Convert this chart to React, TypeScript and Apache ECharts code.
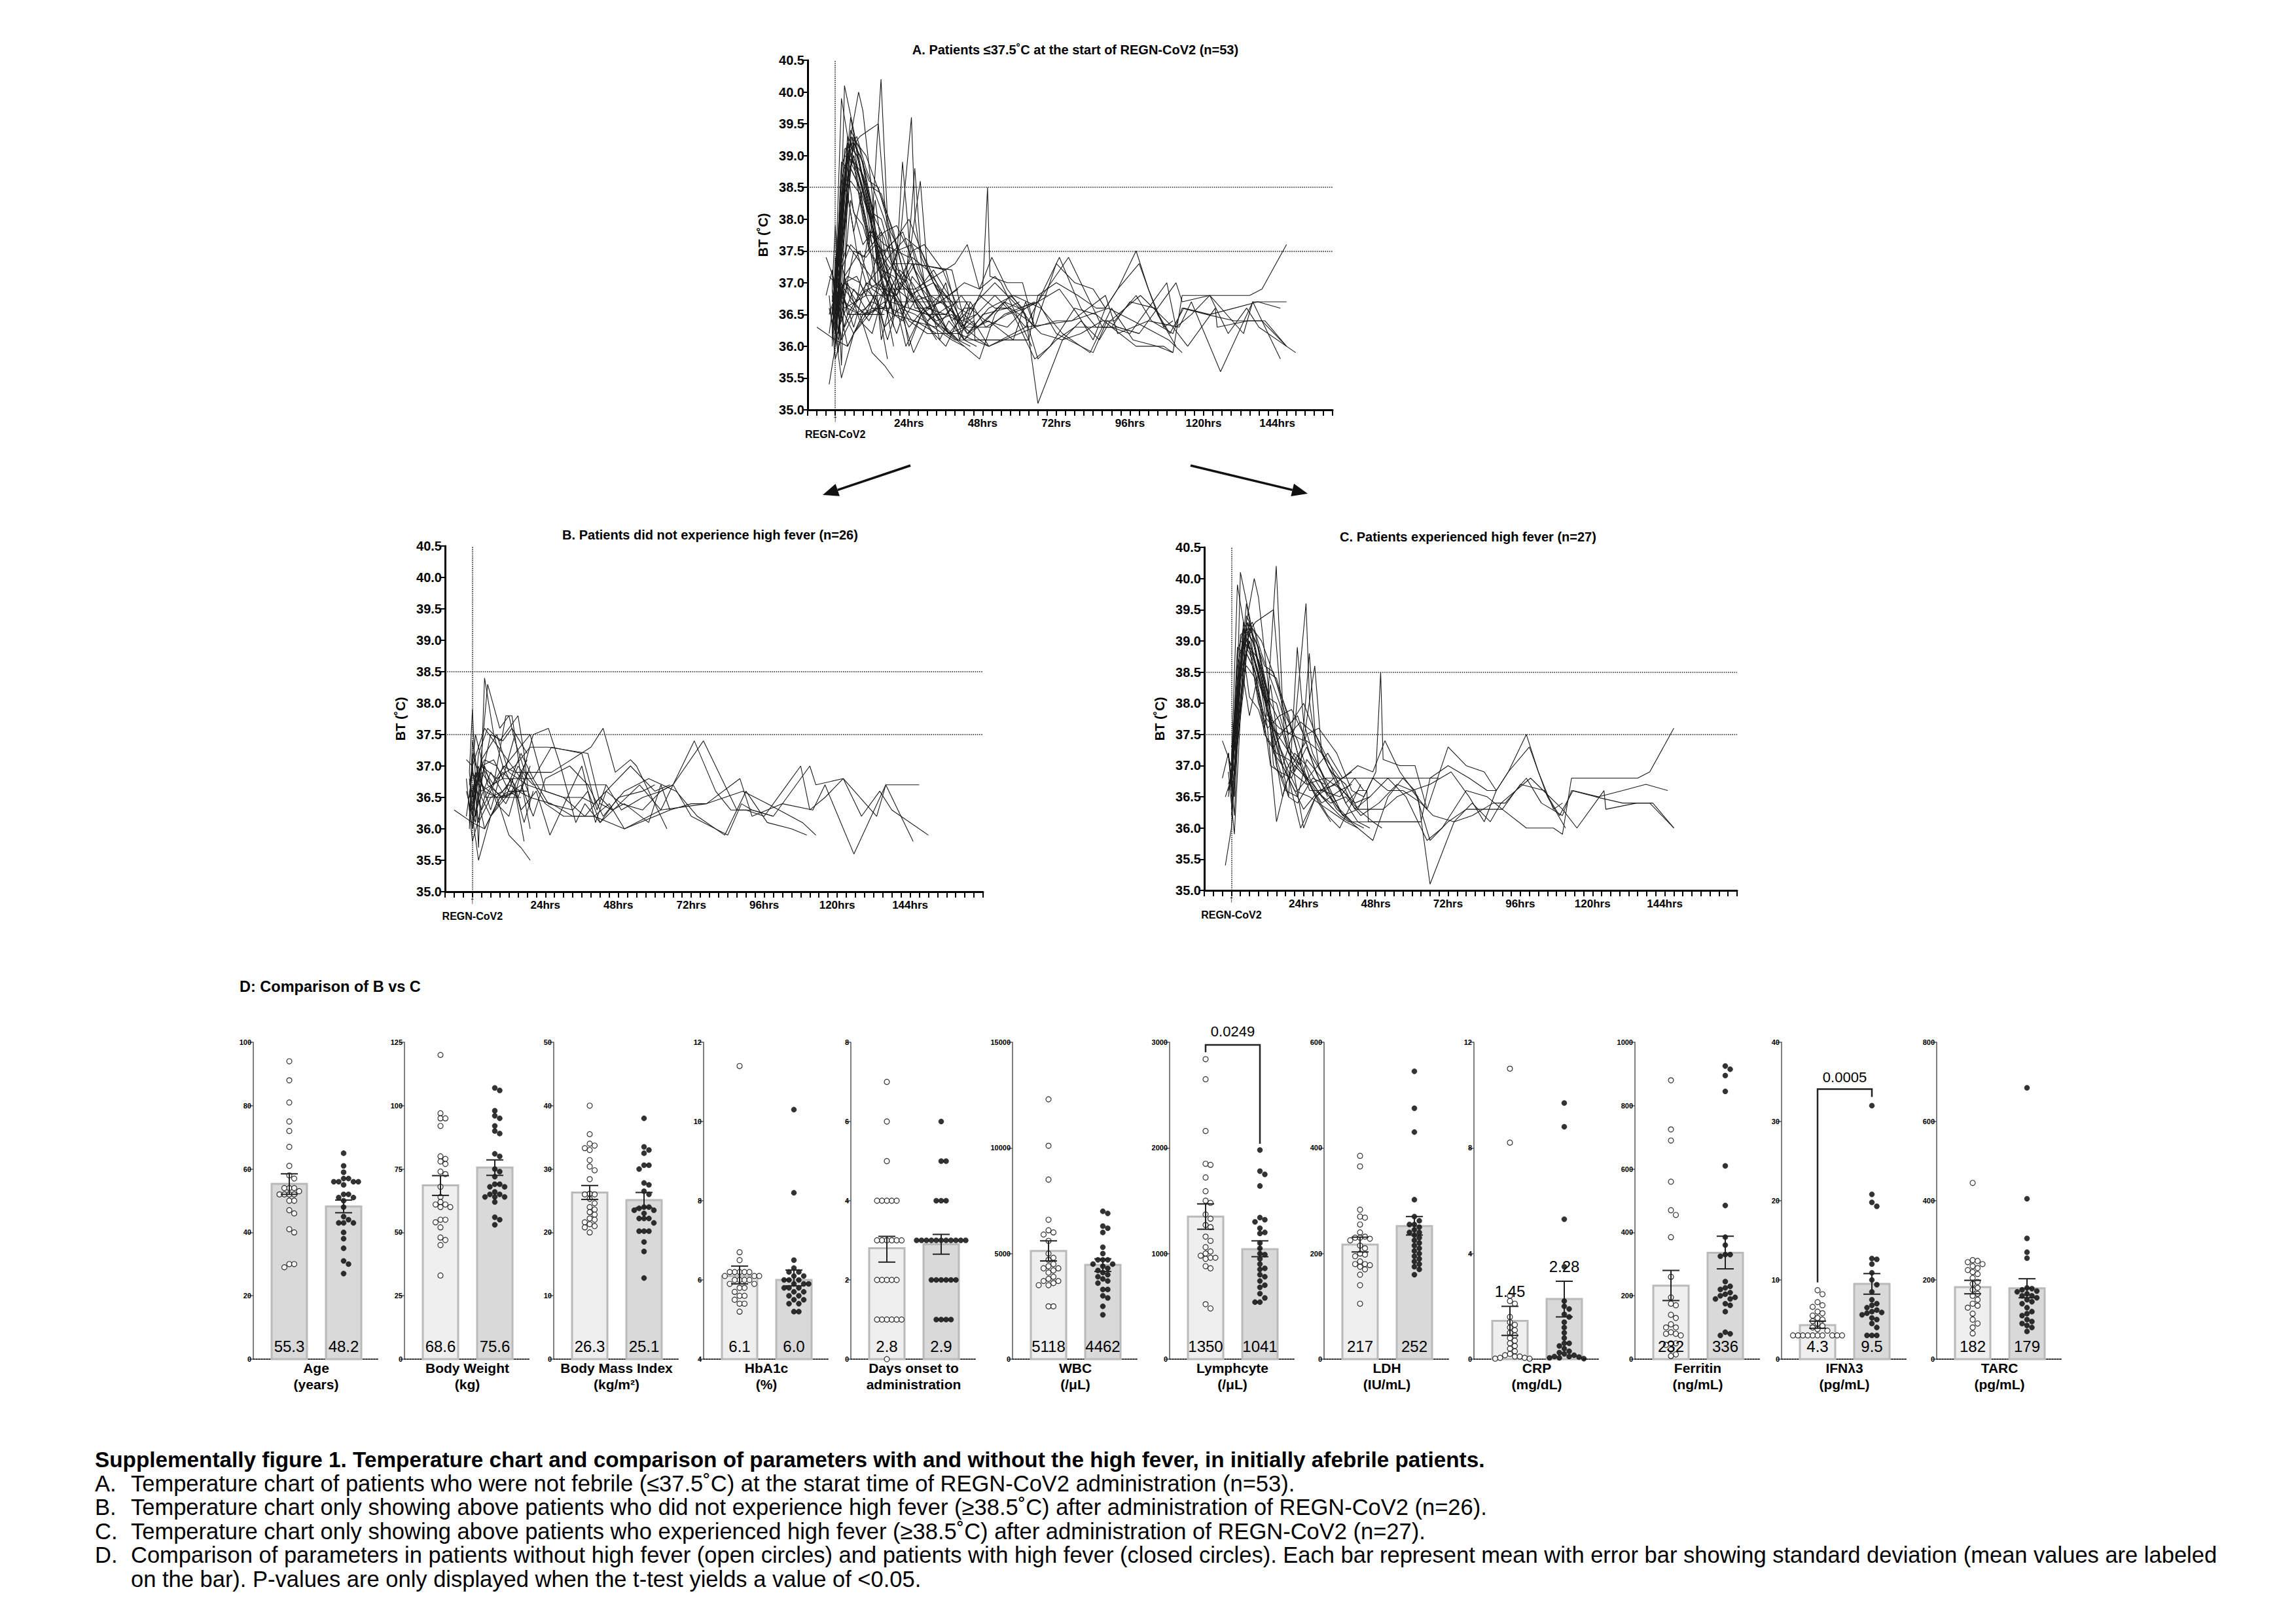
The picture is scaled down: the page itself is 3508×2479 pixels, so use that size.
import React, { useEffect, useRef } from 'react';
import * as echarts from 'echarts';

const FONT = "'Liberation Sans', Arial, Helvetica, sans-serif";
const W = 3508;
const H = 2479;

// ---------- Temperature charts (hours after REGN-CoV2, body temperature) ----------
const patientsB: number[][][] = [
  [[-6,36.3],[0,36.1],[4,36.0],[9,36.5],[14,36.6],[18,36.6]],
  [[-1,36.9],[0,37.9],[2,35.7],[4,38.4],[7,37.5],[10,37.0],[14,36.9],[20,36.9],[26,36.9],[39,37.3],[43,37.6],[47,36.9],[52,37.1],[54,37.0],[64,36.0]],
  [[-1,36.4],[1,36.1],[5,38.3],[9,37.6],[12,37.8],[14,37.4],[18,36.8],[20,36.7],[30,36.7],[44,36.7],[49,36.3],[56,36.5],[62,36.6],[66,36.7],[76,37.4],[87,36.3],[92,36.3],[99,36.2],[111,37.0],[113,36.7],[122,36.8],[133,36.2],[136,36.7],[140,36.7],[147,36.7]],
  [[-2,36.6],[0,36.2],[2,35.5],[6,36.2],[10,36.5],[15,36.6],[19,36.5],[26,36.4],[33,36.2],[40,36.2],[45,36.4],[50,36.0],[65,36.3],[72,36.4],[77,36.4],[88,36.8],[92,36.2],[102,36.4],[112,36.3],[116,36.7],[125.5,35.6],[136,36.7],[140,36.3],[145,35.8]],
  [[-1,36.0],[0,37.2],[3,36.7],[8,36.5],[12,35.9],[16,35.7],[19,35.5]],
  [[-2,37.1],[0,37.0],[4,37.6],[10,37.2],[16,36.8],[20,37.5],[25,37.6],[29,37.0],[34,36.1],[37,36.4],[42,36.1],[48,36.5],[56,36.6],[60,36.7]],
  [[-1,36.5],[1,37.5],[5,36.7],[10,36.5],[16,37.2],[20,36.8],[26,37.3],[36,37.2],[41,36.3],[44,36.7]],
  [[-2,36.2],[0,36.9],[3,36.3],[7,36.7],[11,37.8],[13,37.8],[17,36.5],[19,36.0]],
  [[0,36.0],[2,37.2],[5,37.6],[9,37.4],[15,37.8],[17,37.2],[19,36.3]],
  [[-1,36.6],[0,36.2],[3,37.1],[8,37.5],[12,36.9],[18,36.7],[24,36.6],[30,36.5],[36,36.5],[40,36.4],[44,36.6],[52,37.0],[60,36.6],[65,36.7]],
  [[-2,36.8],[0,35.8],[4,36.5],[9,36.9],[14,37.2],[19,37.5],[24,36.6],[30,36.5],[37,36.2],[42,36.5],[46,36.3]],
  [[-1,36.3],[0,36.4],[3,37.0],[7,36.7],[10,36.9],[14,36.7],[16,36.3],[21,36.6],[25.5,35.9],[36,37.0],[40.5,36.1],[44,36.6],[49,36.4],[56,36.3],[62,36.6],[66,36.7],[72,36.2],[84,35.9],[88.5,36.4],[92,36.3],[99,36.2]],
  [[0,36.5],[1,36.9],[4,36.6],[8,36.5],[12,36.7],[16,36.6],[19,37.0]],
  [[-1,36.7],[0,37.0],[2,36.1],[6,36.5],[10,36.6],[13,36.8],[17,36.1],[20,36.6]],
  [[0,36.4],[1,36.8],[4,37.1],[8,37.0],[12,36.6],[15,36.5],[18,36.9],[24,36.4],[30,36.2],[40,36.2],[50,36.0],[62,36.3],[77,36.4],[89,36.6],[97,36.4],[108.6,36.1],[113,35.9]],
  [[-1,36.1],[0,37.4],[3,36.5],[6,36.2],[11,36.5],[15,37.0],[18,36.8]],
  [[0,36.6],[2,37.0],[4,36.5],[8,36.5],[12,36.5],[16,36.5]],
  [[-1,36.2],[0,36.6],[3,36.9],[6,36.7],[11,36.4],[15,36.8],[18,37.1]],
  [[-1,36.9],[0,36.5],[3,37.0],[7,37.1],[10,36.8],[14,37.5],[19,37.5]],
  [[0,36.2],[1,36.7],[4,36.0],[9,36.5],[12,36.6],[17,36.6]],
  [[-1,36.8],[0,36.3],[2,36.9],[6,36.3],[10,37.0],[14,36.6],[17,35.8]],
  [[0,36.7],[1,36.2],[4,37.0],[8,36.4],[12,36.2],[16,36.9],[19,36.5]],
  [[0,36.8],[3,37.0],[8,36.8],[14,37.0],[19,37.3],[25,37.3],[38,37.2],[42,36.4],[46,36.3],[50,36.4],[58,36.1],[62,36.7],[65,36.3]],
  [[0,36.9],[3,36.6],[10,36.8],[20,36.8],[25,36.4],[33,36.3],[38,36.6],[42,36.1],[55,36.7],[62,36.3],[73,37.4],[80,36.6],[85,36.3],[90,36.3],[96,36.2],[102,36.6],[108,37.0],[111,36.3],[116,36.5],[122,36.8],[128,36.2],[134,36.6],[138,36.3],[150,35.9]],
  [[0,36.1],[2,36.4],[6,36.9],[11,36.5],[16,36.7],[20,36.2],[24,36.8],[32,37.0],[38,36.7],[43,36.2],[50,36.6],[58,36.8],[67,36.6],[74,36.2],[83,35.9],[90,36.6],[97,36.1],[105,36.0],[110,35.9]],
  [[-1,36.4],[0,36.0],[3,36.8],[6,37.5],[10,37.4],[13,37.6],[18,37.2]],
];

const patientsC: number[][][] = [
  [[-3,37.4],[0,37.0],[2,39.9],[5,39.0],[9,38.5],[13,37.7],[17,37.0],[21,36.6],[26,36.5],[32,36.3],[38,36.1],[42,36.0]],
  [[-3,36.8],[-1,37.2],[1,36.5],[3,40.1],[6,39.4],[10,38.4],[15,37.5],[19,36.8],[23,36.0],[28,36.5],[34,36.7],[40,36.9]],
  [[-2,36.5],[0,36.8],[2,38.0],[5,39.3],[7.6,40.0],[9,39.7],[12,38.4],[14,37.3],[17,36.5],[20,37.0],[25,37.4],[30,37.2],[36,36.8],[41,36.3],[46,36.5]],
  [[-2,35.4],[0,36.0],[2,37.5],[5,39.1],[8,39.3],[11,39.4],[14,39.5],[16,38.3],[18,37.4],[21,36.9],[25,37.3],[29,36.8],[35,36.3],[40,36.1],[44,36.0]],
  [[-1,37.2],[1,36.2],[3,38.5],[5,39.6],[8,38.8],[12,38.0],[14.9,40.2],[17,38.0],[20,37.1],[24,36.0],[28,36.5],[34,36.8]],
  [[0,36.7],[2,37.9],[4,39.3],[7,39.0],[10,38.5],[13,37.6],[16,37.5],[20,37.7],[24,38.0],[28,37.5],[33,37.0],[38,36.4],[42,36.1],[46,36.0]],
  [[-1,36.9],[1,35.9],[3,37.8],[5,39.4],[8,39.1],[11,38.3],[14,37.2],[17,37.0],[21,37.6],[24.8,39.6],[26,38.0],[29,37.0],[33,36.5],[37,36.2],[42,36.3],[47,36.1],[50,36.0]],
  [[-1,37.2],[0,36.6],[3,38.7],[5.5,39.3],[8,38.6],[12,37.9],[16,37.3],[20,36.9],[25,36.7],[31,36.8],[42,36.8],[50,36.8],[60,36.8],[69,36.8]],
  [[0,37.0],[2,37.5],[4,38.5],[6,39.2],[9,38.9],[12,38.2],[15,37.1],[19,36.5],[21.9,38.9],[24,37.7],[27,37.2],[33,36.6],[37,36.2],[42,36.0],[47,35.8],[52,36.5],[57,36.8],[61,36.6],[66,35.8],[72,36.1],[78,36.3],[86,36.3],[90,36.3],[98,36.0],[107,36.0],[110,35.9],[113,36.8],[125,36.8],[135,36.8],[139,36.9],[147,37.6]],
  [[-1,36.6],[1,36.8],[3,39.1],[6,39.2],[9,38.9],[12,38.1],[15,38.0],[19,37.3],[23,37.0],[25.9,38.8],[28,37.4],[33,36.9],[38,36.7],[42,36.3],[46,36.3],[50.4,36.3],[55,36.5],[60,36.6],[65,36.3],[72,37.3],[78,37.0],[84,36.9],[88,36.6],[92,36.9],[98,37.5],[102,36.9],[107,36.3],[110,36.4]],
  [[0,36.5],[2,38.2],[4,39.0],[7,38.8],[10,38.3],[12,37.8],[16,37.6],[20,37.5],[24,37.4],[27.7,38.6],[30,37.2],[34,36.8],[38,36.4],[42,36.6],[45,36.6],[45.5,36.1],[52,36.1],[58,36.1],[63,36.1],[66,36.8],[72,37.0],[79,36.8],[85,36.6],[88,36.6]],
  [[-1,36.5],[1,37.4],[4,39.0],[7,38.7],[10,38.0],[13,37.0],[16,36.9],[20,36.8],[25,37.5],[29,37.6],[35,37.2],[40,36.6],[44,36.5],[48,36.9],[49.6,38.5],[50.4,37.1],[56,37.0],[61,37.0],[65,36.3]],
  [[0,37.1],[2,38.6],[5,39.2],[8,38.3],[11,37.8],[14,37.6],[18,37.0],[22,36.6],[27,36.9],[32,37.2],[37,36.8],[42,37.0],[47,36.9],[51,37.4],[56,36.9],[62,36.5],[66,35.1],[74,36.1],[80,36.2],[87,36.4],[91,36.4],[98,36.8],[103,36.4],[110,36.2],[113,36.6],[121,36.5],[130,36.4],[134,36.4],[140,36.4],[147,36.0]],
  [[0,36.8],[2,38.9],[4,38.8],[6,38.1],[9,37.9],[12,37.4],[15,37.2],[19,37.1],[23,36.9],[28,36.6],[33,36.4],[38,36.5],[43,36.2],[49,36.4],[55,36.7],[60,36.6],[66,36.7],[73,36.9],[79,36.5],[84,36.1],[88,36.6],[92,36.9],[99,37.3],[105,36.5],[111,36.0]],
  [[-1,36.7],[1,37.0],[3,38.5],[6,39.0],[9,38.4],[12,37.9],[16,37.1],[20,36.7],[24,36.3],[29,36.6],[35,36.7],[41,36.4],[46,36.5],[52,36.8],[58,36.5],[65,35.8],[70,36.0],[78,36.6],[85,36.5],[90,36.3],[96,36.7],[104,36.6],[109,36.2],[113.5,36.6],[122,36.5],[130,36.6],[137.7,36.7],[145,36.6]],
  [[0,37.0],[2,38.3],[5,38.6],[8,38.4],[11,37.5],[14,37.3],[18,37.6],[22,37.8],[26,37.2],[31,36.8],[37,36.6],[42,36.3],[47,36.8],[52,36.6],[57,36.6],[63,36.4],[67,36.2],[74,36.1],[80,36.4],[86,36.1],[89.6,36.4],[99.4,36.8],[110,36.3],[114.8,36.0],[123.8,36.6],[124.4,36.3],[134.6,36.4],[139,36.4],[147,36.0]],
  [[0,36.4],[3,38.0],[5,39.3],[8,39.0],[11,38.6],[14,38.5],[18,37.8],[22,37.4],[26,36.8],[30,36.5],[34,36.3]],
  [[0,36.9],[2,37.6],[4,38.9],[7,39.2],[10,39.0],[13,38.6],[16,38.2],[19,37.8],[23,37.0],[26,36.6],[31,36.6],[36,36.3],[40,36.1]],
  [[-1,37.1],[1,36.9],[4,38.2],[6,39.3],[9,38.6],[12,37.9],[15,37.0],[18,36.6],[22,36.5],[25,37.1],[30,36.8],[35,36.4]],
  [[0,36.6],[2,38.0],[4,39.1],[7,39.3],[10,38.8],[13,38.4],[16,38.0],[19,37.5],[23,37.7],[28,37.5],[32,37.0],[36,36.7]],
  [[0,37.3],[3,37.9],[5,38.8],[8,38.5],[11,37.6],[13,38.3],[16,37.2],[19,36.5],[22,36.4],[27,36.8],[31,36.7]],
  [[-1,36.6],[0,36.8],[3,39.0],[6,38.9],[9,38.0],[12,37.6],[16,37.8],[20,37.9],[24,37.5],[28,36.9],[32,36.5]],
  [[0,36.2],[2,37.3],[4,38.4],[6,37.8],[9,38.5],[12,38.5],[15,38.4],[18,37.9],[22,37.2],[26,36.7],[30,36.4],[36,36.6],[40,36.7]],
  [[0,36.9],[2,38.1],[4,39.2],[6,38.9],[9,38.7],[12,38.2],[14,37.0],[17,36.8],[21,37.2],[25,37.0],[30,36.6],[36,36.5],[41,36.8],[44,36.6]],
  [[0,37.0],[2,38.4],[4,38.9],[7,38.6],[10,38.2],[14,37.6],[18,37.3],[22,37.0],[27,36.7],[32,36.4],[36,36.2],[39,36.1],[44,36.1],[52,36.1],[63,36.1]],
  [[0,36.6],[2,38.8],[4,39.2],[7,39.0],[10,38.5],[13,38.0],[16,37.7],[19,37.2],[23,37.0],[27,36.6],[32,36.2],[36,36.0],[40,36.4],[43,36.7]],
  [[0,36.3],[3,38.4],[6,39.0],[9,38.5],[12,37.6],[15,36.1],[18,36.7],[21,37.0],[25,36.8],[29,36.4],[33,36.1]],
];

const feverLines = [37.5, 38.5];
const tempTitles = [
  'A. Patients ≤37.5˚C at the start of REGN-CoV2 (n=53)',
  'B. Patients did not experience high fever (n=26)',
  'C. Patients experienced high fever (n=27)',
];

// ---------- Panel D ----------
const paramNames = ['Age', 'Body Weight', 'Body Mass Index', 'HbA1c', 'Days onset to', 'WBC', 'Lymphcyte', 'LDH', 'CRP', 'Ferritin', 'IFNλ3', 'TARC'];
const paramUnits = ['(years)', '(kg)', '(kg/m²)', '(%)', 'administration', '(/μL)', '(/μL)', '(IU/mL)', '(mg/dL)', '(ng/mL)', '(pg/mL)', '(pg/mL)'];
const axisMin = [0, 0, 0, 4, 0, 0, 0, 0, 0, 0, 0, 0];
const axisMax = [100, 125, 50, 12, 8, 15000, 3000, 600, 12, 1000, 40, 800];
const axisStep = [20, 25, 10, 2, 2, 5000, 1000, 200, 4, 200, 10, 200];
const meanB = [55.3, 68.6, 26.3, 6.1, 2.8, 5118, 1350, 217, 1.45, 232, 4.3, 182];
const meanC = [48.2, 75.6, 25.1, 6.0, 2.9, 4462, 1041, 252, 2.28, 336, 9.5, 179];
const meanDecimals = [1, 1, 1, 1, 1, 0, 0, 0, 2, 0, 1, 0];
const errB = [[52, 58.5], [64.6, 72.4], [25.2, 27.4], [5.9, 6.35], [2.45, 3.1], [4650, 5600], [1230, 1470], [203, 231], [0.9, 2.0], [185, 280], [3.9, 4.8], [165, 199]];
const errC = [[46.2, 50.2], [72.5, 78.6], [23.9, 26.3], [5.85, 6.25], [2.65, 3.15], [4150, 4750], [970, 1120], [235, 270], [1.6, 2.95], [285, 388], [8.2, 10.8], [155, 203]];
const labelAbove = [false, false, false, false, false, false, false, false, true, false, false, false];

const valsB: number[][] = [
  [94, 88, 81, 75, 72, 67, 61, 58, 57, 54, 54, 54, 53, 52, 52, 52, 52, 50, 50, 47, 46, 41, 40, 30, 30, 29],
  [120, 97, 95, 95, 92, 80, 79, 78, 77, 74, 73, 68, 64, 62, 61, 61, 60, 60, 55, 55, 54, 52, 48, 47, 45, 33],
  [40, 35.5, 34, 33.7, 33.3, 33, 31.4, 30.4, 29.8, 28.4, 26.1, 26, 26, 25.3, 24.6, 24, 23.6, 23.2, 22.8, 22.2, 22, 21.6, 21.3, 21, 20.8, 20],
  [11.4, 6.7, 6.5, 6.2, 6.2, 6.2, 6.2, 6.2, 6.1, 6.1, 6.1, 6.0, 6.0, 6.0, 6.0, 5.9, 5.9, 5.8, 5.8, 5.7, 5.6, 5.6, 5.5, 5.4, 5.4, 5.2],
  [7, 6, 5, 4, 4, 4, 4, 4, 3, 3, 3, 3, 3, 3, 2, 2, 2, 2, 2, 1, 1, 1, 1, 1, 1, 0],
  [12300, 10100, 8500, 6600, 6100, 6000, 5900, 5600, 5000, 4800, 4700, 4500, 4400, 4300, 4300, 4200, 4100, 3900, 3800, 3700, 3700, 3600, 3500, 3500, 2500, 2500],
  [2840, 2650, 2160, 1850, 1840, 1720, 1590, 1500, 1480, 1370, 1330, 1270, 1250, 1160, 1120, 1060, 1020, 1000, 980, 960, 960, 950, 880, 860, 520, 480],
  [385, 365, 283, 270, 268, 255, 240, 232, 230, 230, 228, 225, 215, 210, 200, 198, 195, 185, 180, 180, 178, 175, 170, 160, 140, 105],
  [11.0, 8.2, 2.4, 2.2, 2.1, 1.6, 1.4, 1.3, 1.2, 1.1, 1.0, 0.9, 0.8, 0.7, 0.6, 0.5, 0.4, 0.3, 0.2, 0.15, 0.1, 0.1, 0.05, 0.05, 0.02, 0.02],
  [880, 725, 690, 560, 470, 455, 385, 260, 195, 175, 170, 140, 130, 110, 100, 100, 85, 80, 80, 75, 50, 50, 45, 30, 15, 10],
  [8.7, 8.2, 7.2, 6.8, 6.6, 6.0, 5.8, 5.5, 5.2, 5.0, 4.8, 4.5, 4.2, 4.0, 3.8, 3.6, 3, 3, 3, 3, 3, 3, 3, 3, 3, 3],
  [445, 250, 248, 245, 240, 235, 230, 225, 220, 215, 205, 195, 190, 180, 175, 165, 160, 150, 140, 135, 130, 115, 100, 90, 80, 65],
];
const valsC: number[][] = [
  [65, 61, 59, 57, 57, 56, 56, 56, 56, 55, 52, 52, 51, 51, 50, 48, 45, 44, 43, 43, 43, 40, 38, 35, 31, 30, 27],
  [107, 106, 98, 96, 95, 92, 90, 89, 81, 80, 75, 74, 72, 69, 69, 68, 68, 66, 65, 65, 64, 64, 64, 62, 56, 55, 53],
  [38, 33.5, 33, 32.5, 30.6, 30.6, 30, 27.8, 27.5, 26.5, 26, 24, 24, 23.8, 23.5, 23.5, 23, 22.2, 22.2, 22.2, 21.5, 20.2, 20.2, 20.2, 18.5, 17, 12.8],
  [10.3, 8.2, 6.5, 6.3, 6.2, 6.2, 6.1, 6.1, 6.0, 6.0, 6.0, 5.9, 5.9, 5.9, 5.8, 5.8, 5.8, 5.7, 5.7, 5.6, 5.6, 5.5, 5.5, 5.4, 5.4, 5.2, 5.2],
  [6, 5, 5, 4, 4, 4, 3, 3, 3, 3, 3, 3, 3, 3, 3, 3, 3, 2, 2, 2, 2, 2, 2, 1, 1, 1, 1],
  [7000, 6900, 6300, 6200, 6000, 5300, 5000, 4700, 4700, 4700, 4500, 4500, 4400, 4300, 4200, 4100, 4000, 3900, 3800, 3700, 3600, 3300, 3300, 3000, 2900, 2500, 2100],
  [1980, 1780, 1750, 1640, 1340, 1320, 1300, 1240, 1200, 1190, 1100, 1050, 1000, 990, 950, 900, 860, 850, 800, 780, 740, 700, 680, 620, 580, 540, 540],
  [545, 475, 430, 302, 270, 262, 255, 255, 250, 245, 240, 240, 235, 230, 225, 220, 215, 210, 205, 200, 195, 190, 185, 180, 175, 170, 160],
  [9.7, 8.8, 5.3, 3.5, 2.2, 2.0, 1.9, 1.7, 1.6, 1.4, 1.2, 1.0, 0.8, 0.6, 0.6, 0.5, 0.4, 0.3, 0.25, 0.2, 0.15, 0.1, 0.1, 0.08, 0.05, 0.05, 0.02],
  [925, 915, 895, 845, 610, 485, 385, 360, 330, 330, 325, 245, 230, 225, 220, 210, 205, 200, 195, 190, 190, 175, 170, 150, 85, 80, 75],
  [32, 20.8, 19.8, 19.3, 12.7, 12.6, 12.0, 10.9, 10.0, 9.4, 8.5, 7.5, 7.0, 6.8, 6.5, 6.2, 6.0, 5.9, 5.8, 5.6, 5.2, 5.0, 4.5, 4.0, 3.0, 3.0, 3.0],
  [685, 405, 305, 270, 255, 180, 178, 175, 172, 170, 165, 160, 160, 155, 150, 145, 140, 130, 120, 115, 110, 100, 95, 90, 85, 80, 70],
];

// p-value brackets: chart index, text, bracket top, left leg end, right leg end, text level
const pChart = [6, 10];
const pText = ['0.0249', '0.0005'];
const pTop = [2975, 34.1];
const pLeftEnd = [2905, 9.7];
const pRightEnd = [2040, 33.1];
const pTextLevel = [3100, 35.6];

const captionTitle = 'Supplementally figure 1. Temperature chart and comparison of parameters with and without the high fever, in initially afebrile patients.';
const captionMarks = ['A.', 'B.', 'C.', 'D.', ''];
const captionLines = [
  'Temperature chart of patients who were not febrile (≤37.5˚C) at the starat time of REGN-CoV2 administration (n=53).',
  'Temperature chart only showing above patients who did not experience high fever (≥38.5˚C) after administration of REGN-CoV2 (n=26).',
  'Temperature chart only showing above patients who experienced high fever (≥38.5˚C) after administration of REGN-CoV2 (n=27).',
  'Comparison of parameters in patients without high fever (open circles) and patients with high fever (closed circles). Each bar represent mean with error bar showing standard deviation (mean values are labeled',
  'on the bar). P-values are only displayed when the t-test yields a value of <0.05.',
];

// ---------- layout ----------
const TEMP_LAYOUT = [
  { left: 1234, top: 92, width: 802, height: 534, max: 162, tx: 1643, ty: 76 },
  { left: 680, top: 834, width: 822, height: 528, max: 168, tx: 1085, ty: 817 },
  { left: 1840, top: 836, width: 814, height: 524, max: 168, tx: 2243, ty: 820 },
];
const MINI_X = [387, 618, 846, 1075, 1300, 1547, 1787, 2023, 2252, 2498, 2722, 2959];
const MINI_TOP = 1592;
const MINI_H = 484;
const MINI_W = 192;
const BAR_CX = [55, 138];
const BAR_HALF = 27;
const DOT = 8;
const STEP = 7.5;

function swarm(vals: number[], min: number, max: number, center: number) {
  const placed: { x: number; y: number }[] = [];
  const sorted = [...vals].sort((a, b) => b - a);
  const out: number[][] = [];
  for (const v of sorted) {
    const py = ((v - min) / (max - min)) * MINI_H;
    let xo = 0;
    for (let n = 0; n < 80; n++) {
      const k = Math.ceil(n / 2);
      const off = n === 0 ? 0 : (n % 2 === 1 ? k : -k) * STEP;
      const ok = placed.every((p) => (p.x - off) ** 2 + (p.y - py) ** 2 >= STEP * STEP * 0.95);
      if (ok) { xo = off; break; }
    }
    placed.push({ x: xo, y: py });
    out.push([center + xo, v]);
  }
  return out;
}

function txt(x: number, y: number, text: string, font: string, align = 'center', extra: any = {}) {
  return {
    type: 'text', x, y, silent: true,
    style: { text, font, fill: '#000', textAlign: align, align, textVerticalAlign: 'middle', verticalAlign: 'middle', ...extra },
  };
}

function arrow(x1: number, y1: number, x2: number, y2: number) {
  const dx = x2 - x1, dy = y2 - y1;
  const len = Math.sqrt(dx * dx + dy * dy);
  const ux = dx / len, uy = dy / len;
  const L = 24, Wd = 10;
  const bx = x2 - ux * L, by = y2 - uy * L;
  return [
    { type: 'line', silent: true, shape: { x1, y1, x2: bx, y2: by }, style: { stroke: '#111', lineWidth: 3.5 } },
    { type: 'polygon', silent: true, shape: { points: [[x2, y2], [bx - uy * Wd, by + ux * Wd], [bx + uy * Wd, by - ux * Wd]] }, style: { fill: '#111' } },
  ];
}

function buildOption() {
  const grid: any[] = [];
  const xAxis: any[] = [];
  const yAxis: any[] = [];
  const series: any[] = [];
  const graphic: any[] = [];
  const panels = [[...patientsB, ...patientsC], patientsB, patientsC];

  TEMP_LAYOUT.forEach((L, k) => {
    grid.push({ left: L.left, top: L.top, width: L.width, height: L.height });
    xAxis.push({
      gridIndex: k, type: 'value', min: -9, max: L.max, interval: 3,
      axisLine: { show: true, onZero: false, lineStyle: { color: '#000', width: 3 } },
      axisTick: { show: true, length: 9, lineStyle: { color: '#000', width: 2 } },
      splitLine: { show: false },
      axisLabel: {
        show: true, margin: 5, color: '#000',
        formatter: (v: number) => (v === 0 ? '{a|↑}\n{b|REGN-CoV2}' : v > 0 && v % 24 === 0 && v <= 144 ? '{c|' + v + 'hrs}' : ''),
        rich: {
          a: { fontSize: 15, lineHeight: 14, color: '#000', fontFamily: FONT },
          b: { fontSize: 16, fontWeight: 'bold', lineHeight: 36, color: '#000', fontFamily: FONT },
          c: { fontSize: 17, fontWeight: 'bold', lineHeight: 30, color: '#000', fontFamily: FONT },
        },
      },
    });
    yAxis.push({
      gridIndex: k, type: 'value', min: 35, max: 40.5, interval: 0.5,
      axisLine: { show: true, onZero: false, lineStyle: { color: '#000', width: 3 } },
      axisTick: { show: true, length: 8, lineStyle: { color: '#000', width: 2 } },
      splitLine: { show: false },
      axisLabel: { color: '#000', fontSize: 20, fontWeight: 'bold', margin: 5, formatter: (v: number) => v.toFixed(1) },
      name: 'BT (˚C)', nameLocation: 'middle', nameGap: 58,
      nameTextStyle: { fontSize: 20, fontWeight: 'bold', color: '#000' },
    });
    panels[k].forEach((pts, j) => {
      series.push({
        type: 'line', xAxisIndex: k, yAxisIndex: k, data: pts, showSymbol: false, symbol: 'none',
        lineStyle: { color: '#1a1a1a', width: 1.1 }, silent: true, z: 2,
        markLine: j === 0 ? {
          silent: true, symbol: 'none', label: { show: false },
          lineStyle: { type: 'dotted', color: '#222', width: 1.6 },
          data: [...feverLines.map((t) => ({ yAxis: t })), { xAxis: 0 }],
        } : undefined,
      });
    });
    graphic.push(txt(L.tx, L.ty, tempTitles[k], `bold 20px ${FONT}`));
  });

  graphic.push(...arrow(1391, 711, 1257, 756));
  graphic.push(...arrow(1819, 711, 1998, 754));
  graphic.push(txt(366, 1507, 'D: Comparison of B vs C', `bold 23.5px ${FONT}`, 'left'));

  for (let i = 0; i < 12; i++) {
    const gi = 3 + i;
    const ax = MINI_X[i];
    const lo = axisMin[i];
    const fillB = i === 0 ? '#d9d9d9' : '#efefef';
    grid.push({ left: ax, top: MINI_TOP, width: MINI_W, height: MINI_H });
    xAxis.push({
      gridIndex: gi, type: 'value', min: 0, max: MINI_W,
      axisLine: { show: true, onZero: false, lineStyle: { color: '#333', width: 2, type: 'dotted' } },
      axisTick: { show: false }, axisLabel: { show: false }, splitLine: { show: false },
    });
    yAxis.push({
      gridIndex: gi, type: 'value', min: axisMin[i], max: axisMax[i], interval: axisStep[i],
      axisLine: { show: true, onZero: false, lineStyle: { color: '#555', width: 1.5 } },
      axisTick: { show: true, length: 7, lineStyle: { color: '#555', width: 1.5 } },
      axisLabel: { fontSize: 11, fontWeight: 'bold', color: '#000', margin: 3, formatter: (v: number) => String(v) },
      splitLine: { show: false },
    });
    // bars
    series.push({
      type: 'custom', xAxisIndex: gi, yAxisIndex: gi, z: 1, silent: true,
      data: [[0, meanB[i]], [1, meanC[i]]],
      renderItem: (_p: any, api: any) => {
        const g = api.value(0);
        const m = api.value(1);
        const cx = BAR_CX[g];
        const a = api.coord([cx - BAR_HALF, lo]);
        const b = api.coord([cx + BAR_HALF, m]);
        return {
          type: 'rect',
          shape: { x: a[0], y: b[1], width: b[0] - a[0], height: a[1] - b[1] },
          style: { fill: g === 0 ? fillB : '#d9d9d9', stroke: '#bababa', lineWidth: 3 },
        };
      },
    });
    // points
    series.push({
      type: 'scatter', xAxisIndex: gi, yAxisIndex: gi, z: 3, silent: true, symbol: 'circle', symbolSize: DOT,
      data: swarm(valsB[i], axisMin[i], axisMax[i], BAR_CX[0]),
      itemStyle: { color: '#fff', borderColor: '#000', borderWidth: 1.2 },
    });
    series.push({
      type: 'scatter', xAxisIndex: gi, yAxisIndex: gi, z: 3, silent: true, symbol: 'circle', symbolSize: DOT,
      data: swarm(valsC[i], axisMin[i], axisMax[i], BAR_CX[1]),
      itemStyle: { color: '#000', borderColor: '#000', borderWidth: 0.5 },
    });
    // error bars
    series.push({
      type: 'custom', xAxisIndex: gi, yAxisIndex: gi, z: 4, silent: true,
      data: [[0, errB[i][0], errB[i][1]], [1, errC[i][0], errC[i][1]]],
      renderItem: (_p: any, api: any) => {
        const cx = BAR_CX[api.value(0)];
        const p1 = api.coord([cx, api.value(1)]);
        const p2 = api.coord([cx, api.value(2)]);
        const st = { stroke: '#222', lineWidth: 2 };
        return {
          type: 'group',
          children: [
            { type: 'line', shape: { x1: p1[0], y1: p1[1], x2: p2[0], y2: p2[1] }, style: st },
            { type: 'line', shape: { x1: p1[0] - 13, y1: p1[1], x2: p1[0] + 13, y2: p1[1] }, style: st },
            { type: 'line', shape: { x1: p2[0] - 13, y1: p2[1], x2: p2[0] + 13, y2: p2[1] }, style: st },
          ],
        };
      },
    });
    // mean labels
    series.push({
      type: 'custom', xAxisIndex: gi, yAxisIndex: gi, z: 5, silent: true,
      data: [[0, meanB[i], errB[i][1]], [1, meanC[i], errC[i][1]]],
      renderItem: (_p: any, api: any) => {
        const g = api.value(0);
        const cx = BAR_CX[g];
        const label = Number(api.value(1)).toFixed(meanDecimals[i]);
        const pos = labelAbove[i] ? api.coord([cx, api.value(2)]) : api.coord([cx, lo]);
        const y = labelAbove[i] ? pos[1] - 23 : pos[1] - 20;
        return {
          type: 'text', x: pos[0], y,
          style: { text: label, font: `24px ${FONT}`, fill: '#000', textAlign: 'center', align: 'center', textVerticalAlign: 'middle', verticalAlign: 'middle' },
        };
      },
    });
    graphic.push(txt(ax + 96, 2089, paramNames[i], `bold 21px ${FONT}`));
    graphic.push(txt(ax + 96, 2114, paramUnits[i], `bold 21px ${FONT}`));
  }

  // p-value brackets
  pChart.forEach((ci, n) => {
    const gi = 3 + ci;
    series.push({
      type: 'custom', xAxisIndex: gi, yAxisIndex: gi, z: 6, silent: true,
      data: [[pTop[n], pLeftEnd[n], pRightEnd[n], pTextLevel[n]]],
      renderItem: (_p: any, api: any) => {
        const t = api.value(0);
        const a0 = api.coord([BAR_CX[0], api.value(1)]);
        const a1 = api.coord([BAR_CX[0], t]);
        const b1 = api.coord([BAR_CX[1], t]);
        const b0 = api.coord([BAR_CX[1], api.value(2)]);
        const tl = api.coord([(BAR_CX[0] + BAR_CX[1]) / 2, api.value(3)]);
        return {
          type: 'group',
          children: [
            { type: 'polyline', shape: { points: [a0, a1, b1, b0] }, style: { stroke: '#222', lineWidth: 2.5, fill: 'none' } },
            { type: 'text', x: tl[0], y: tl[1], style: { text: pText[n], font: `22px ${FONT}`, fill: '#000', textAlign: 'center', align: 'center', textVerticalAlign: 'middle', verticalAlign: 'middle' } },
          ],
        };
      },
    });
  });

  // caption
  const capY = [2229, 2266, 2302, 2339, 2375, 2412];
  graphic.push(txt(145, capY[0], captionTitle, `bold 33.3px ${FONT}`, 'left'));
  captionLines.forEach((line, n) => {
    if (captionMarks[n]) graphic.push(txt(145, capY[n + 1], captionMarks[n], `34.5px ${FONT}`, 'left'));
    graphic.push(txt(200, capY[n + 1], line, `34.5px ${FONT}`, 'left'));
  });

  return {
    animation: false,
    backgroundColor: '#fff',
    textStyle: { fontFamily: FONT },
    grid, xAxis, yAxis, series, graphic,
  };
}

export default function App() {
  const ref = useRef<HTMLDivElement>(null);
  useEffect(() => {
    document.body.style.margin = '0';
    const chart = echarts.init(ref.current as HTMLDivElement, null, { renderer: 'svg', width: W, height: H });
    chart.setOption(buildOption() as any);
    return () => chart.dispose();
  }, []);
  return <div ref={ref} style={{ width: W, height: H, background: '#fff' }} />;
}
